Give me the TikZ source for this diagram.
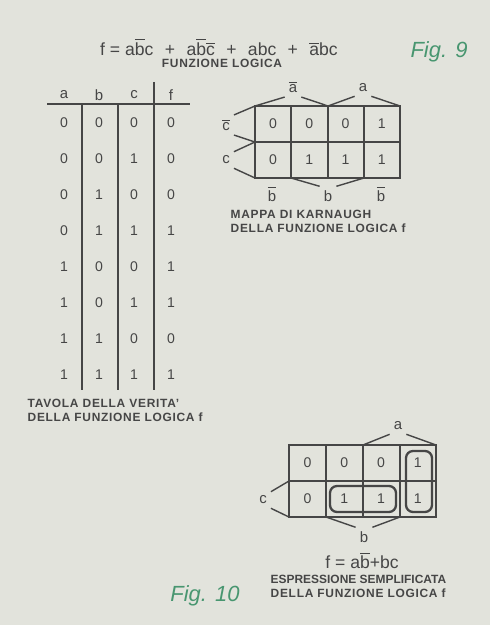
\documentclass[tikz,border=0pt]{standalone}
\usepackage{fontspec}
\setmainfont{Liberation Sans}
\usetikzlibrary{positioning}
\definecolor{paper}{RGB}{226,227,220}
\definecolor{ink}{RGB}{70,70,70}
\definecolor{figgreen}{RGB}{72,150,112}
\newcommand{\nt}[1]{$\overline{\mbox{#1}}$}
\newcommand{\plus}{\hspace{6.5pt}+\hspace{6.5pt}}

\begin{document}
\begin{tikzpicture}[x=0.02cm, y=-0.02cm, line width=0.8pt, draw=ink,
    bit/.style={font=\fontsize{8}{8}\selectfont, text=ink, inner sep=1pt},
    var/.style={font=\fontsize{8.5}{9}\selectfont, text=ink, inner sep=2pt},
    caption/.style={font=\bfseries\fontsize{6.8}{8.3}\selectfont\addfontfeatures{LetterSpace=6},
        text=ink, align=left, inner sep=0pt},
    figlabel/.style={font=\itshape\fontsize{12.5}{12.5}\selectfont, text=figgreen},
    loop/.style={draw=ink, line width=1.3pt, rounded corners=4pt}]
    \fill[paper] (0,0) rectangle (490,625);
    \useasboundingbox (0,0) rectangle (490,625);

    % logic function
    \node[var, font=\fontsize{10}{10}\selectfont] (func) at (219,47)
        {f = a\nt{b}c\plus a\nt{b}\nt{c}\plus abc\plus\nt{a}bc};
    \node[caption] (funclbl) at (222,63) {FUNZIONE LOGICA};
    \node[figlabel] (fig9) at (439,52) {Fig. 9};

    % truth table
    \foreach \h/\x in {a/64,b/99,c/134,f/171}
        \node[var] (th\h) at (\x,95) {\h};
    \draw (47,104) -- (190,104);
    \draw (82,104) -- (82,390);
    \draw (118,104) -- (118,390);
    \draw (154,82) -- (154,390);
    \foreach \va/\vb/\vc/\vf [count=\i] in
        {0/0/0/0, 0/0/1/0, 0/1/0/0, 0/1/1/1, 1/0/0/1, 1/0/1/1, 1/1/0/0, 1/1/1/1} {
        \node[bit] (ta\i) at (64,123+35.9*\i-35.9) {\va};
        \node[bit] (tb\i) at (99,123+35.9*\i-35.9) {\vb};
        \node[bit] (tc\i) at (134,123+35.9*\i-35.9) {\vc};
        \node[bit] (tf\i) at (171,123+35.9*\i-35.9) {\vf};
    }
    \node[caption, anchor=north west] (tablbl) at (27,398)
        {TAVOLA DELLA VERITA'\\DELLA FUNZIONE LOGICA f};

    % karnaugh map
    \draw (255,106) rectangle (400,178);
    \draw (255,142) -- (400,142);
    \foreach \x in {291,328,364}
        \draw (\x,106) -- (\x,178);
    \foreach \v [count=\i] in {0,0,0,1}
        \node[bit] (ka\i) at (273+36.25*\i-36.25,124) {\v};
    \foreach \v [count=\i] in {0,1,1,1}
        \node[bit] (kc\i) at (273+36.25*\i-36.25,160) {\v};
    \coordinate (ka-tl) at (255,106);
    \coordinate (ka-tm) at (328,106);
    \coordinate (ka-tr) at (400,106);
    \coordinate (ka-ml) at (255,142);
    \coordinate (ka-bl) at (255,178);
    \coordinate (ka-b1) at (291,178);
    \coordinate (ka-b3) at (364,178);
    \node[var] (kanota) at (293,87) {\nt{a}};
    \node[var] (kaa) at (363,88) {a};
    \node[var] (kanotc) at (226,125) {\nt{c}};
    \node[var] (kac) at (226,160) {c};
    \node[var] (kanotb1) at (272,194) {\nt{b}};
    \node[var] (kab) at (328,196) {b};
    \node[var] (kanotb2) at (381,194) {\nt{b}};
    \draw (ka-tl) -- (kanota.south west);
    \draw (kanota.south east) -- (ka-tm);
    \draw (ka-tm) -- (kaa.south west);
    \draw (kaa.south east) -- (ka-tr);
    \draw (ka-tl) -- (kanotc.north east);
    \draw (kanotc.south east) -- (ka-ml);
    \draw (ka-ml) -- (kac.north east);
    \draw (kac.south east) -- (ka-bl);
    \draw (ka-b1) -- (kab.north west);
    \draw (kab.north east) -- (ka-b3);
    \node[caption, anchor=north west] (kalbl) at (230,209)
        {MAPPA DI KARNAUGH\\DELLA FUNZIONE LOGICA f};

    % simplified map
    \draw (289,445) rectangle (436,517);
    \draw (289,481) -- (436,481);
    \foreach \x in {326,363,400}
        \draw (\x,445) -- (\x,517);
    \foreach \v [count=\i] in {0,0,0,1}
        \node[bit] (kb\i) at (307.5+36.75*\i-36.75,463) {\v};
    \foreach \v [count=\i] in {0,1,1,1}
        \node[bit] (kd\i) at (307.5+36.75*\i-36.75,499) {\v};
    \draw[loop] (406,451) rectangle (432,512);
    \draw[loop] (330,486) rectangle (396,512);
    \coordinate (kb-tm) at (363,445);
    \coordinate (kb-tr) at (436,445);
    \coordinate (kb-ml) at (289,481);
    \coordinate (kb-bl) at (289,517);
    \coordinate (kb-b1) at (326,517);
    \coordinate (kb-b3) at (400,517);
    \node[var] (kba) at (398,426) {a};
    \node[var] (kbc) at (263,500) {c};
    \node[var] (kbb) at (364,537) {b};
    \draw (kb-tm) -- (kba.south west);
    \draw (kba.south east) -- (kb-tr);
    \draw (kb-ml) -- (kbc.north east);
    \draw (kbc.south east) -- (kb-bl);
    \draw (kb-b1) -- (kbb.north west);
    \draw (kbb.north east) -- (kb-b3);
    \node[var, font=\fontsize{10}{10}\selectfont] (simp) at (362,560) {f = a\nt{b}+bc};
    \node[caption, anchor=north west] (simplbl) at (270,574)
        {{\addfontfeatures{LetterSpace=0}ESPRESSIONE SEMPLIFICATA}\\DELLA FUNZIONE LOGICA f};
    \node[figlabel] (fig10) at (205,596) {Fig. 10};
\end{tikzpicture}
\end{document}
